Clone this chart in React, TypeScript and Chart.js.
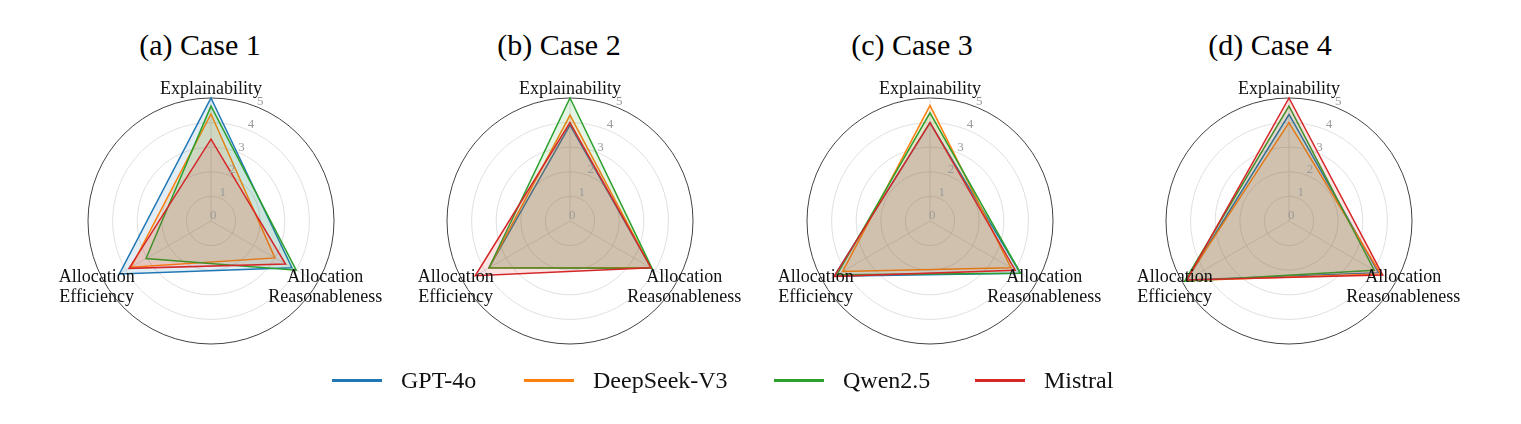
import React, { useEffect, useRef } from 'react';
import { Chart, registerables } from 'chart.js';

Chart.register(...registerables);

// ---- data ----
const AXES = ['Explainability', 'Allocation Reasonableness', 'Allocation Efficiency'];
const AXIS_LINES = [['Explainability'], ['Allocation', 'Reasonableness'], ['Allocation', 'Efficiency']];
const MODELS = ['GPT-4o', 'DeepSeek-V3', 'Qwen2.5', 'Mistral'];
const COLORS = ['#1f77b4', '#ff7f0e', '#2ca02c', '#d62728'];
const CASE_TITLES = ['(a) Case 1', '(b) Case 2', '(c) Case 3', '(d) Case 4'];
const TICKS = [0, 1, 2, 3, 4, 5];

// values: [Explainability, Allocation Reasonableness, Allocation Efficiency]
const case1GPT = [5.0, 3.8, 4.3];
const case1DeepSeek = [4.35, 3.0, 3.75];
const case1Qwen = [4.67, 4.0, 3.05];
const case1Mistral = [3.33, 3.5, 3.85];

const case2GPT = [3.9, 3.8, 3.8];
const case2DeepSeek = [4.3, 3.8, 3.8];
const case2Qwen = [5.0, 3.85, 3.8];
const case2Mistral = [4.0, 3.8, 4.45];

const case3GPT = [4.0, 4.25, 4.5];
const case3DeepSeek = [4.7, 3.8, 4.1];
const case3Qwen = [4.4, 4.25, 4.37];
const case3Mistral = [4.0, 4.0, 4.5];

const case4GPT = [4.33, 4.2, 4.8];
const case4DeepSeek = [4.0, 4.3, 4.85];
const case4Qwen = [4.67, 4.0, 4.9];
const case4Mistral = [5.0, 4.4, 4.8];

const CASES = [
  [case1GPT, case1DeepSeek, case1Qwen, case1Mistral],
  [case2GPT, case2DeepSeek, case2Qwen, case2Mistral],
  [case3GPT, case3DeepSeek, case3Qwen, case3Mistral],
  [case4GPT, case4DeepSeek, case4Qwen, case4Mistral],
];

// ---- layout ----
const CENTERS_X = [211, 570, 930, 1289];
const TITLE_X = [200, 559, 912, 1270];
const CENTER_Y = 221;
const CW = 350;
const CH = 300;

function hexToRgba(hex: string, a: number) {
  const n = parseInt(hex.slice(1), 16);
  return `rgba(${(n >> 16) & 255},${(n >> 8) & 255},${n & 255},${a})`;
}

const labelsPlugin = {
  id: 'customLabels',
  afterDatasetsDraw(chart: any) {
    const scale = chart.scales.r;
    const ctx = chart.ctx;
    const cx = scale.xCenter;
    const cy = scale.yCenter;
    ctx.save();
    // radial tick labels at 22.5 deg clockwise from top
    ctx.fillStyle = '#9a9a9a';
    ctx.font = '13px "Liberation Serif"';
    ctx.textAlign = 'center';
    ctx.textBaseline = 'middle';
    const a = (22.5 * Math.PI) / 180;
    TICKS.forEach((v) => {
      const d = scale.getDistanceFromCenterForValue(v) + 6;
      ctx.fillText(String(v), cx + d * Math.sin(a), cy - d * Math.cos(a));
    });
    // axis labels
    ctx.fillStyle = '#111';
    ctx.font = '18px "Liberation Serif"';
    const R = scale.getDistanceFromCenterForValue(5) + 9;
    AXIS_LINES.forEach((lines, i) => {
      const p = scale.getPointPosition(i, R);
      const lh = 20;
      const y0 = p.y - ((lines.length - 1) * lh) / 2;
      lines.forEach((t, k) => ctx.fillText(t, p.x, y0 + k * lh));
    });
    ctx.restore();
  },
};

function RadarCase({ values }: { values: number[][] }) {
  const ref = useRef<HTMLCanvasElement | null>(null);
  useEffect(() => {
    if (!ref.current) return;
    const chart = new Chart(ref.current, {
      type: 'radar',
      data: {
        labels: AXES,
        datasets: MODELS.map((m, i) => ({
          label: m,
          data: values[i],
          borderColor: COLORS[i],
          backgroundColor: hexToRgba(COLORS[i], 0.13),
          borderWidth: 1.5,
          pointRadius: 0,
          fill: true,
          tension: 0,
          order: MODELS.length - i,
        })),
      },
      options: {
        responsive: false,
        maintainAspectRatio: false,
        animation: false,
        layout: { padding: { top: 27, bottom: 27, left: 0, right: 0 } },
        plugins: { legend: { display: false }, tooltip: { enabled: false } },
        scales: {
          r: {
            min: 0,
            max: 5,
            ticks: { display: false, stepSize: 1 },
            pointLabels: { display: false },
            grid: {
              circular: true,
              color: (c: any) => (c.tick && c.tick.value === 5 ? '#444' : '#dcdcdc'),
              lineWidth: (c: any) => (c.tick && c.tick.value === 5 ? 1 : 0.9),
            },
            angleLines: { color: '#dcdcdc', lineWidth: 0.9 },
          },
        },
      },
      plugins: [labelsPlugin],
    } as any);
    return () => chart.destroy();
  }, [values]);
  return <canvas ref={ref} width={CW} height={CH} style={{ width: CW, height: CH, display: 'block' }} />;
}

export default function App() {
  const legendX = [332, 524, 774, 975];
  return (
    <div style={{ position: 'absolute', left: 0, top: 0, width: 1521, height: 424, background: '#fff', overflow: 'hidden' }}>
      {CASES.map((vals, i) => (
        <React.Fragment key={i}>
          <div style={{ position: 'absolute', left: CENTERS_X[i] - CW / 2, top: CENTER_Y - CH / 2 }}>
            <RadarCase values={vals} />
          </div>
          <div
            style={{
              position: 'absolute',
              left: TITLE_X[i] - 150,
              width: 300,
              top: 27,
              textAlign: 'center',
              fontFamily: '"Liberation Serif", serif',
              fontSize: 30,
              lineHeight: '36px',
              color: '#000',
            }}
          >
            {CASE_TITLES[i]}
          </div>
        </React.Fragment>
      ))}
      {MODELS.map((m, i) => (
        <div
          key={m}
          style={{ position: 'absolute', left: legendX[i], top: 364, height: 32, display: 'flex', alignItems: 'center' }}
        >
          <div style={{ width: 50, height: 3, background: COLORS[i] }} />
          <div
            style={{
              marginLeft: 19,
              fontFamily: '"Liberation Serif", serif',
              fontSize: 24,
              lineHeight: '32px',
              color: '#111',
              whiteSpace: 'nowrap',
            }}
          >
            {m}
          </div>
        </div>
      ))}
    </div>
  );
}
